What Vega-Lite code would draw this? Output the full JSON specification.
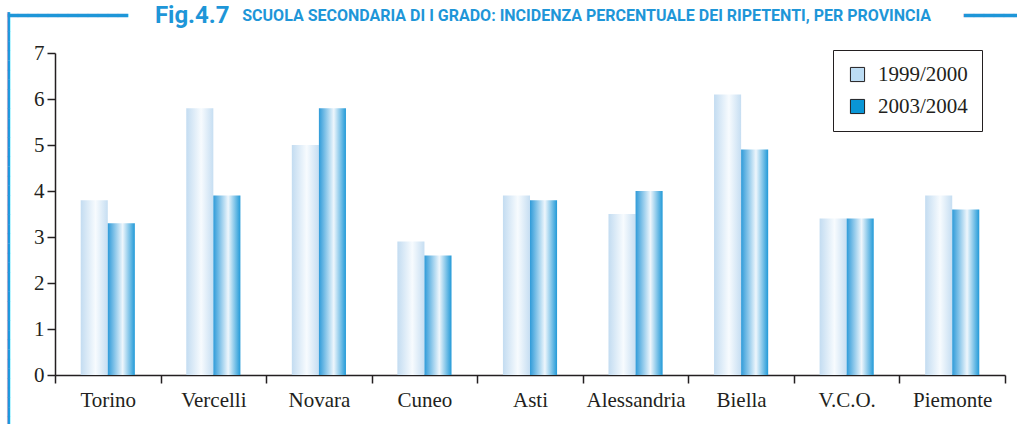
{
  "$schema": "https://vega.github.io/schema/vega-lite/v6.json",
  "width": 950,
  "height": 322,
  "autosize": {"type": "none"},
  "padding": {"left": 55, "top": 53, "right": 12, "bottom": 49},
  "title": {
    "text": "\u200b\u2003\u2003\u2003\u2003\u2003\u2003Fig.4.7",
    "subtitle": "━━━━━━━━━━━━\u2003\u2003\u2003\u2003\u2003\u2003\u2003SCUOLA SECONDARIA DI I GRADO: INCIDENZA PERCENTUALE DEI RIPETENTI, PER PROVINCIA\u2003\u2003━━━━━━━",
    "anchor": "start",
    "frame": "group",
    "dx": -47,
    "offset": -16,
    "font": "Roboto",
    "fontSize": 24,
    "fontWeight": "bold",
    "color": "#1e96d8",
    "subtitleFont": "Roboto",
    "subtitleFontSize": 16,
    "subtitleFontWeight": "bold",
    "subtitleColor": "#1e96d8",
    "subtitlePadding": -20
  },
  "data": {
    "values": [
      {"provincia": "Torino", "anno": "1999/2000", "valore": 3.8},
      {"provincia": "Torino", "anno": "2003/2004", "valore": 3.3},
      {"provincia": "Vercelli", "anno": "1999/2000", "valore": 5.8},
      {"provincia": "Vercelli", "anno": "2003/2004", "valore": 3.9},
      {"provincia": "Novara", "anno": "1999/2000", "valore": 5.0},
      {"provincia": "Novara", "anno": "2003/2004", "valore": 5.8},
      {"provincia": "Cuneo", "anno": "1999/2000", "valore": 2.9},
      {"provincia": "Cuneo", "anno": "2003/2004", "valore": 2.6},
      {"provincia": "Asti", "anno": "1999/2000", "valore": 3.9},
      {"provincia": "Asti", "anno": "2003/2004", "valore": 3.8},
      {"provincia": "Alessandria", "anno": "1999/2000", "valore": 3.5},
      {"provincia": "Alessandria", "anno": "2003/2004", "valore": 4.0},
      {"provincia": "Biella", "anno": "1999/2000", "valore": 6.1},
      {"provincia": "Biella", "anno": "2003/2004", "valore": 4.9},
      {"provincia": "V.C.O.", "anno": "1999/2000", "valore": 3.4},
      {"provincia": "V.C.O.", "anno": "2003/2004", "valore": 3.4},
      {"provincia": "Piemonte", "anno": "1999/2000", "valore": 3.9},
      {"provincia": "Piemonte", "anno": "2003/2004", "valore": 3.6}
    ]
  },
  "encoding": {
    "x": {
      "field": "provincia",
      "type": "nominal",
      "sort": null,
      "scale": {"paddingInner": 0, "paddingOuter": 0},
      "axis": {
        "title": null,
        "labelAngle": 0,
        "tickBand": "extent",
        "tickSize": 8,
        "labelPadding": 6,
        "labelFont": "Liberation Serif",
        "labelFontSize": 21,
        "labelColor": "#231f20",
        "domainColor": "#231f20",
        "tickColor": "#231f20",
        "domainWidth": 1.5,
        "tickWidth": 1.5
      }
    },
    "xOffset": {
      "field": "anno",
      "type": "nominal",
      "scale": {"paddingInner": 0, "paddingOuter": 0.95}
    },
    "y": {
      "field": "valore",
      "type": "quantitative",
      "scale": {"domain": [0, 7], "nice": false},
      "axis": {
        "title": "━━━━━━━━━━━━━━━━━━━━━━━━━━━━━━━━━━━━━━━━━━━",
        "titleFont": "DejaVu Sans",
        "titleFontSize": 16,
        "titleFontWeight": "normal",
        "titleColor": "#1e96d8",
        "titleAngle": 270,
        "titleAlign": "center",
        "titleBaseline": "alphabetic",
        "titleX": -42,
        "titleY": 166,
        "values": [0, 1, 2, 3, 4, 5, 6, 7],
        "grid": false,
        "tickSize": 8,
        "labelPadding": 3,
        "labelFont": "Liberation Serif",
        "labelFontSize": 21,
        "labelColor": "#231f20",
        "domainColor": "#231f20",
        "tickColor": "#231f20",
        "domainWidth": 1.5,
        "tickWidth": 1.5
      }
    }
  },
  "layer": [
    {
      "transform": [{"filter": "datum.anno === '1999/2000'"}],
      "mark": {
        "type": "bar",
        "color": {
          "gradient": "linear", "x1": 0, "y1": 0, "x2": 1, "y2": 0,
          "stops": [
            {"offset": 0, "color": "#c3dcf1"},
            {"offset": 0.55, "color": "#f7fbfe"},
            {"offset": 1, "color": "#c6def2"}
          ]
        }
      }
    },
    {
      "transform": [{"filter": "datum.anno === '2003/2004'"}],
      "mark": {
        "type": "bar",
        "color": {
          "gradient": "linear", "x1": 0, "y1": 0, "x2": 1, "y2": 0,
          "stops": [
            {"offset": 0, "color": "#2f9bd9"},
            {"offset": 0.55, "color": "#eef6fc"},
            {"offset": 1, "color": "#229ad8"}
          ]
        }
      }
    },
    {
      "mark": {"type": "point", "shape": "square", "filled": true, "opacity": 0},
      "encoding": {
        "color": {
          "field": "anno",
          "type": "nominal",
          "scale": {"domain": ["1999/2000", "2003/2004"], "range": ["#bcdcf3", "#0a96d6"]},
          "legend": {
            "title": null,
            "orient": "none",
            "legendX": 778,
            "legendY": -3,
            "strokeColor": "#231f20",
            "fillColor": "#ffffff",
            "padding": 14,
            "symbolType": "square",
            "symbolSize": 200,
            "symbolOpacity": 1,
            "symbolStrokeColor": "#231f20",
            "symbolStrokeWidth": 1,
            "labelFont": "Liberation Serif",
            "labelFontSize": 21,
            "labelColor": "#231f20",
            "labelOffset": 10,
            "rowPadding": 10
          }
        }
      }
    }
  ],
  "config": {"view": {"stroke": null}}
}
